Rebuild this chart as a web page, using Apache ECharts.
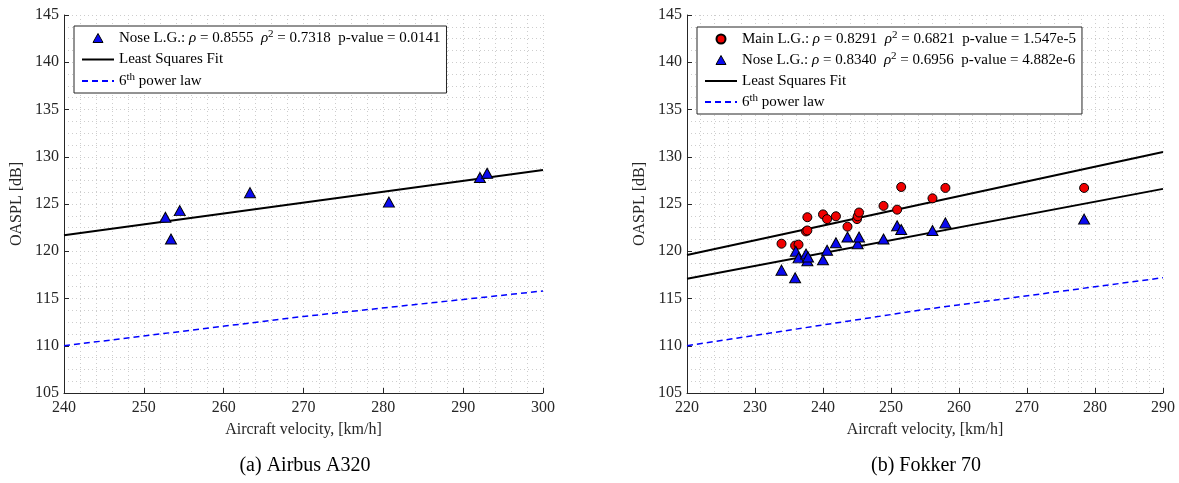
<!DOCTYPE html>
<html><head><meta charset="utf-8">
<script src="https://cdn.jsdelivr.net/npm/echarts@6/dist/echarts.min.js"></script>
<style>html,body{margin:0;padding:0;background:#fff}#c{width:1179px;height:483px}</style>
</head><body><div id="c"></div>
<script>
// ---- Airbus A320 (a) ----
const a320NoseVel = [252.7, 253.4, 254.5, 263.3, 280.7, 292.1, 293.0];
const a320NoseSpl = [123.6, 121.3, 124.3, 126.2, 125.2, 127.8, 128.25];
const a320FitVel = [240, 300];
const a320FitSpl = [121.7, 128.6];
const a320PowVel = [240, 270, 300];
const a320PowSpl = [110.0, 113.1, 115.8];

// ---- Fokker 70 (b) ----
const f70MainVel = [233.9, 235.9, 236.4, 237.7, 237.5, 237.7, 240.0, 240.6, 241.9, 243.6, 245.0, 245.1, 245.3, 248.9, 250.9, 251.5, 256.1, 258.0, 278.4];
const f70MainSpl = [120.8, 120.6, 120.7, 123.6, 122.1, 122.2, 123.9, 123.4, 123.7, 122.6, 123.4, 123.7, 124.1, 124.8, 124.4, 126.8, 125.6, 126.7, 126.7];
const f70NoseVel = [233.9, 235.9, 236.0, 236.4, 237.5, 237.7, 237.8, 240.0, 240.6, 241.9, 243.6, 245.1, 245.3, 248.9, 250.9, 251.5, 256.1, 258.0, 278.4];
const f70NoseSpl = [118.0, 117.2, 120.0, 119.3, 119.7, 119.0, 119.4, 119.1, 120.1, 120.9, 121.5, 120.8, 121.5, 121.3, 122.7, 122.3, 122.2, 123.0, 123.4];
const f70FitVel = [220, 290];
const f70MainFitSpl = [119.6, 130.5];
const f70NoseFitSpl = [117.1, 126.6];
const f70PowVel = [220, 255, 290];
const f70PowSpl = [110.0, 113.85, 117.2];

// ---- axes ----
const xRangeA = [240, 300];
const xRangeB = [220, 290];
const yRange = [105, 145];

const F = '"Liberation Serif", "Times New Roman", serif';
const AX = '#262626';
const GRID = '#cdcdcd';
const TRI_ICON = 'path://M5,0 L10,9 L0,9 Z';

function zip(xs, ys) { return xs.map((x, i) => [x, ys[i]]); }

function mkX(gi, r) {
  return {
    gridIndex: gi, type: 'value', min: r[0], max: r[1], interval: 10,
    name: 'Aircraft velocity, [km/h]', nameLocation: 'middle', nameGap: 29,
    nameTextStyle: { fontFamily: F, fontSize: 16, color: AX },
    axisLine: { show: true, onZero: false, lineStyle: { color: AX, width: 1 } },
    axisTick: { show: true, inside: true, length: 5, lineStyle: { color: AX } },
    axisLabel: { fontFamily: F, fontSize: 16, color: AX, margin: 7 },
    splitLine: { show: true, lineStyle: { type: [1, 3], color: GRID } },
    minorTick: { show: false, splitNumber: 5 },
    minorSplitLine: { show: true, lineStyle: { type: [1, 3], color: GRID } }
  };
}
function mkY(gi) {
  return {
    gridIndex: gi, type: 'value', min: yRange[0], max: yRange[1], interval: 5,
    name: 'OASPL [dB]', nameLocation: 'middle', nameGap: 39,
    nameTextStyle: { fontFamily: F, fontSize: 16, color: AX },
    axisLine: { show: true, onZero: false, lineStyle: { color: AX, width: 1 } },
    axisTick: { show: true, inside: true, length: 5, lineStyle: { color: AX } },
    axisLabel: { fontFamily: F, fontSize: 16, color: AX, margin: 5 },
    splitLine: { show: true, lineStyle: { type: [1, 3], color: GRID } },
    minorTick: { show: false, splitNumber: 4 },
    minorSplitLine: { show: true, lineStyle: { type: [1, 3], color: GRID } }
  };
}

const labels = {
  'A320 Nose': 'Nose L.G.: {i|ρ} = 0.8555  {i|ρ}{s|2} = 0.7318  p-value = 0.0141',
  'F70 Main': 'Main L.G.: {i|ρ} = 0.8291  {i|ρ}{s|2} = 0.6821  p-value = 1.547e-5',
  'F70 Nose': 'Nose L.G.: {i|ρ} = 0.8340  {i|ρ}{s|2} = 0.6956  p-value = 4.882e-6',
  'Least Squares Fit': 'Least Squares Fit',
  '6th power law': '6{s|th} power law'
};

function mkLegend(left, top, gap, items) {
  return {
    left: left, top: top, orient: 'vertical',
    itemWidth: 32, itemHeight: 9, itemGap: gap,
    padding: [3, 6, 3, 7],
    symbolKeepAspect: true,
    borderColor: AX, borderWidth: 1, backgroundColor: '#fff',
    selectedMode: false,
    data: items,
    formatter: n => labels[n],
    textStyle: {
      fontFamily: F, fontSize: 15, color: '#000', lineHeight: 18,
      rich: {
        i: { fontFamily: F, fontSize: 15, fontStyle: 'italic', color: '#000', lineHeight: 18 },
        s: { fontFamily: F, fontSize: 11, color: '#000', lineHeight: 10, verticalAlign: 'top' }
      }
    }
  };
}
const hideSym = { opacity: 0 };

const BLUE = '#0a0af0';
const RED = '#f00000';
const triLegendStyle = { color: BLUE, borderColor: '#000', borderWidth: 1 };

const option = {
  animation: false,
  backgroundColor: '#fff',
  grid: [
    { left: 64, right: 1179 - 543, top: 15, bottom: 90 },
    { left: 687, right: 1179 - 1163, top: 15, bottom: 90 }
  ],
  xAxis: [mkX(0, xRangeA), mkX(1, xRangeB)],
  yAxis: [mkY(0), mkY(1)],
  legend: [
    mkLegend(74, 26, 3.5, [
      { name: 'A320 Nose', icon: TRI_ICON, itemStyle: triLegendStyle },
      { name: 'Least Squares Fit', itemStyle: hideSym },
      { name: '6th power law', itemStyle: hideSym }
    ]),
    mkLegend(697, 27, 3, [
      { name: 'F70 Main' },
      { name: 'F70 Nose', icon: TRI_ICON, itemStyle: triLegendStyle },
      { name: 'Least Squares Fit', itemStyle: hideSym },
      { name: '6th power law', itemStyle: hideSym }
    ])
  ],
  series: [
    { type: 'line', name: '6th power law', xAxisIndex: 0, yAxisIndex: 0, data: zip(a320PowVel, a320PowSpl),
      symbol: 'none', lineStyle: { color: '#0000ff', width: 1.5, type: [6, 4] }, itemStyle: { color: '#0000ff' }, z: 2 },
    { type: 'line', name: 'Least Squares Fit', xAxisIndex: 0, yAxisIndex: 0, data: zip(a320FitVel, a320FitSpl),
      symbol: 'none', lineStyle: { color: '#000', width: 2 }, itemStyle: { color: '#000' }, z: 3 },
    { type: 'scatter', name: 'A320 Nose', xAxisIndex: 0, yAxisIndex: 0, data: zip(a320NoseVel, a320NoseSpl),
      symbol: 'triangle', symbolSize: [11, 10],
      itemStyle: { color: BLUE, borderColor: '#000', borderWidth: 1, opacity: 1 }, z: 5 },

    { type: 'line', name: '6th power law', xAxisIndex: 1, yAxisIndex: 1, data: zip(f70PowVel, f70PowSpl),
      symbol: 'none', lineStyle: { color: '#0000ff', width: 1.5, type: [6, 4] }, itemStyle: { color: '#0000ff' }, z: 2 },
    { type: 'line', name: 'Least Squares Fit', xAxisIndex: 1, yAxisIndex: 1, data: zip(f70FitVel, f70MainFitSpl),
      symbol: 'none', lineStyle: { color: '#000', width: 2 }, itemStyle: { color: '#000' }, z: 3 },
    { type: 'line', name: 'Least Squares Fit', xAxisIndex: 1, yAxisIndex: 1, data: zip(f70FitVel, f70NoseFitSpl),
      symbol: 'none', lineStyle: { color: '#000', width: 2 }, itemStyle: { color: '#000' }, z: 3 },
    { type: 'scatter', name: 'F70 Main', xAxisIndex: 1, yAxisIndex: 1, data: zip(f70MainVel, f70MainSpl),
      symbol: 'circle', symbolSize: 9,
      itemStyle: { color: RED, borderColor: '#000', borderWidth: 1, opacity: 1 }, z: 5 },
    { type: 'scatter', name: 'F70 Nose', xAxisIndex: 1, yAxisIndex: 1, data: zip(f70NoseVel, f70NoseSpl),
      symbol: 'triangle', symbolSize: [11, 10],
      itemStyle: { color: BLUE, borderColor: '#000', borderWidth: 1, opacity: 1 }, z: 5 }
  ],
  graphic: [
    { type: 'text', x: 305, y: 466, style: { text: '(a) Airbus A320', fontFamily: F, fontSize: 20, fill: '#000', align: 'center', verticalAlign: 'middle' } },
    { type: 'text', x: 926, y: 466, style: { text: '(b) Fokker 70', fontFamily: F, fontSize: 20, fill: '#000', align: 'center', verticalAlign: 'middle' } }
  ]
};

const chart = echarts.init(document.getElementById('c'), null, { renderer: 'canvas' });
chart.setOption(option);
</script>
</body></html>
